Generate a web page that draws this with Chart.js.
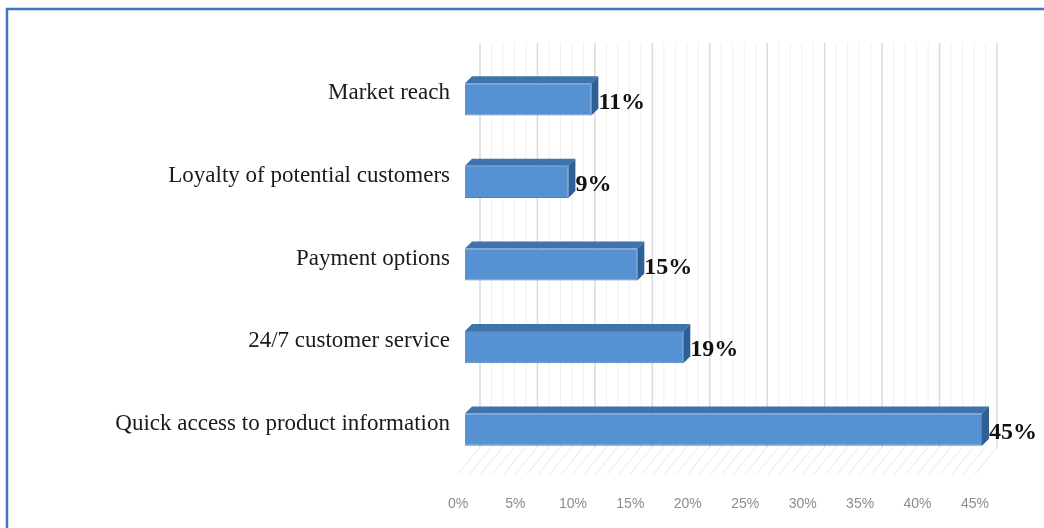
<!DOCTYPE html>
<html>
<head>
<meta charset="utf-8">
<script src="https://cdn.jsdelivr.net/npm/chart.js@4/dist/chart.umd.min.js"></script>
<style>
    html, body { margin: 0; padding: 0; background: #fff; }
    #wrap { position: relative; width: 1044px; height: 528px; }
</style>
</head>
<body>
<div id="wrap"><canvas id="myChart1" width="1044" height="528"></canvas></div>
<script>
const categories = [
    'Market reach',
    'Loyalty of potential customers',
    'Payment options',
    '24/7 customer service',
    'Quick access to product information'
];
const shares = [11, 9, 15, 19, 45];
const xTicks = [0, 5, 10, 15, 20, 25, 30, 35, 40, 45];

const DEPTH = 7;          // bar extrusion
const WALL = 15;          // back wall offset (right/up)
const FLOOR_FRONT = -7;   // floor front edge offset (left)

// white page plus the blue frame on the top and left
const frame = {
    id: 'frame',
    beforeDraw(chart) {
        const ctx = chart.ctx;
        ctx.save();
        ctx.fillStyle = '#fff';
        ctx.fillRect(0, 0, chart.width, chart.height);
        ctx.strokeStyle = '#4472C4';
        ctx.lineWidth = 2.5;
        ctx.beginPath();
        ctx.moveTo(7, chart.height);
        ctx.lineTo(7, 9);
        ctx.lineTo(chart.width, 9);
        ctx.stroke();
        ctx.restore();
    }
};

// back wall gridlines and the hatched floor
const wall = {
    id: 'wall',
    beforeDatasetsDraw(chart) {
        const ctx = chart.ctx;
        const x = chart.scales.x;
        const area = chart.chartArea;
        const top = area.top - WALL;
        const floorBack = area.bottom - 24;
        const floorFront = area.bottom + 3;
        ctx.save();
        for (let v = 0; v <= 45; v++) {
            const px = x.getPixelForValue(v);
            const major = xTicks.includes(v);
            ctx.strokeStyle = major ? '#dadada' : '#f0f0f0';
            ctx.lineWidth = major ? 1.5 : 1;
            ctx.beginPath();
            ctx.moveTo(px + WALL, top);
            ctx.lineTo(px + WALL, floorBack);
            ctx.stroke();
            ctx.strokeStyle = '#e8e8e8';
            ctx.lineWidth = 1;
            ctx.beginPath();
            ctx.moveTo(px + WALL, floorBack);
            ctx.lineTo(px + FLOOR_FRONT, floorFront);
            ctx.stroke();
        }
        ctx.restore();
    }
};

// top and side faces of each bar, then the value labels
const extrude = {
    id: 'extrude',
    afterDatasetsDraw(chart) {
        const ctx = chart.ctx;
        const meta = chart.getDatasetMeta(0);
        ctx.save();
        meta.data.forEach((bar, i) => {
            const p = bar.getProps(['x', 'y', 'base', 'height'], true);
            const t = p.y - p.height / 2;
            const b = p.y + p.height / 2;
            ctx.fillStyle = '#3f73ad';
            ctx.beginPath();
            ctx.moveTo(p.base, t);
            ctx.lineTo(p.base + DEPTH, t - DEPTH);
            ctx.lineTo(p.x + DEPTH, t - DEPTH);
            ctx.lineTo(p.x, t);
            ctx.closePath();
            ctx.fill();
            ctx.fillStyle = '#2f5f94';
            ctx.beginPath();
            ctx.moveTo(p.x, t);
            ctx.lineTo(p.x + DEPTH, t - DEPTH);
            ctx.lineTo(p.x + DEPTH, b - DEPTH);
            ctx.lineTo(p.x, b);
            ctx.closePath();
            ctx.fill();

            ctx.fillStyle = '#111';
            ctx.font = 'bold 24px "Liberation Serif", "Times New Roman", serif';
            ctx.textAlign = 'left';
            ctx.textBaseline = 'middle';
            ctx.fillText(shares[i] + '%', p.x + DEPTH, p.y + 3);
        });
        ctx.restore();
    }
};

new Chart('myChart1', {
    type: 'bar',
    data: {
        labels: categories,
        datasets: [{
            data: shares,
            backgroundColor: '#5692d2',
            borderColor: '#4a86c6',
            borderWidth: 1,
            barPercentage: 0.39,
            categoryPercentage: 1
        }]
    },
    options: {
        indexAxis: 'y',
        responsive: false,
        animation: false,
        layout: { padding: { left: 0, right: 62, top: 58, bottom: 0 } },
        plugins: {
            legend: { display: false },
            tooltip: { enabled: false }
        },
        scales: {
            x: {
                min: 0,
                max: 45,
                grid: { display: false, drawTicks: false },
                border: { display: false },
                ticks: {
                    stepSize: 5,
                    padding: 25,
                    labelOffset: -7,
                    color: '#8c8c8c',
                    font: { family: '"Liberation Sans Narrow", "Liberation Sans", sans-serif', size: 14 },
                    callback: v => v + '%'
                },
                afterFit(scale) { scale.height = 57; }
            },
            y: {
                grid: { display: false, drawTicks: false },
                border: { display: false },
                ticks: {
                    padding: 15,
                    labelOffset: -6,
                    color: '#1a1a1a',
                    font: { family: '"Liberation Serif", "Times New Roman", serif', size: 23 }
                },
                afterFit(scale) { scale.width = 465; }
            }
        }
    },
    plugins: [frame, wall, extrude]
});
</script>
</body>
</html>
